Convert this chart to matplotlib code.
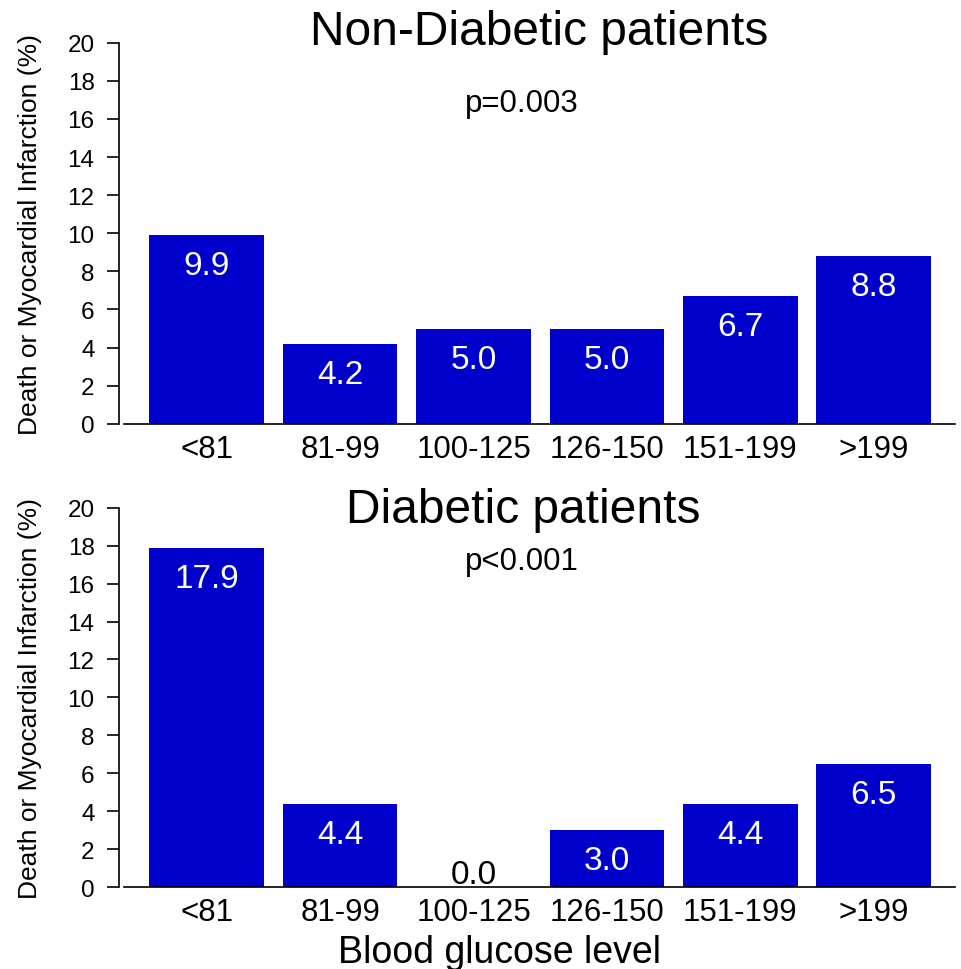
import numpy as np
import matplotlib
matplotlib.use('Agg')
import matplotlib.pyplot as plt

plt.rcParams['font.family'] = ['Liberation Sans', 'DejaVu Sans']

# glucose groups and event rates (%)
groups = ['<81', '81-99', '100-125', '126-150', '151-199', '>199']
non_diabetic = [9.9, 4.2, 5.0, 5.0, 6.7, 8.8]
diabetic = [17.9, 4.4, 0.0, 3.0, 4.4, 6.5]
titles = ['Non-Diabetic patients', 'Diabetic patients']
pvalues = ['p=0.003', 'p<0.001']

bar_color = '#0000cc'

fig = plt.figure(figsize=(9.61, 9.70), dpi=100)
ax1 = fig.add_axes([0.129, 0.562, 0.865, 0.393])
ax2 = fig.add_axes([0.129, 0.0845, 0.865, 0.391])

def draw_panel(ax, vals, title, title_x, title_y, ptext, p_y):
    x = np.arange(len(groups))
    ax.bar(x, vals, width=0.86, color=bar_color)
    for xi, v in zip(x, vals):
        if v > 0:
            ax.text(xi, v - 0.8, '%.1f' % v, ha='center', va='top',
                    color='white', fontsize=24)
        else:
            # empty group: label sits just above the baseline
            ax.text(xi, 0.2, '%.1f' % v, ha='center', va='baseline',
                    color='black', fontsize=24)
    ax.set_xlim(-0.62, 5.61)
    ax.set_ylim(0, 20)
    ax.set_yticks(np.arange(0, 21, 2))
    ax.set_xticks(x)
    ax.set_xticklabels(groups, fontsize=22.5)
    ax.tick_params(axis='x', length=0, pad=7)
    ax.tick_params(axis='y', labelsize=17.5, length=8.6, width=1.2, pad=9)
    ax.spines['top'].set_visible(False)
    ax.spines['right'].set_visible(False)
    ax.spines['left'].set_position(('outward', 3.6))
    ax.spines['left'].set_linewidth(1.2)
    ax.spines['bottom'].set_linewidth(1.2)
    ax.set_ylabel('Death or Myocardial Infarction (%)', fontsize=19, labelpad=18)
    ax.text(title_x, title_y, title, ha='center', va='baseline', fontsize=34.5,
            clip_on=False)
    ax.text(2.36, p_y, ptext, ha='center', va='baseline', fontsize=22.5)

draw_panel(ax1, non_diabetic, titles[0], 2.49, 19.95, pvalues[0], 16.43)
draw_panel(ax2, diabetic, titles[1], 2.37, 19.26, pvalues[1], 16.78)

fig.text(500 / 961, 1 - 963 / 970, 'Blood glucose level', ha='center',
         va='baseline', fontsize=27)

fig.savefig('out.png', dpi=100)
